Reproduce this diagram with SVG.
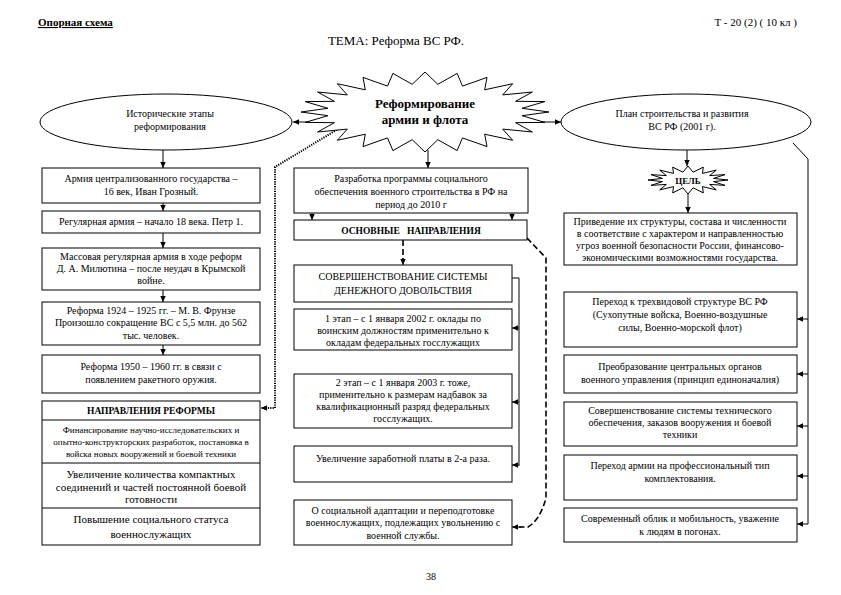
<svg xmlns="http://www.w3.org/2000/svg" width="841" height="595" viewBox="0 0 841 595">
<style>
  text { font-family: "Liberation Serif", "Times New Roman", serif; fill: #000; }
  .t { font-size: 10px; text-anchor: middle; }
  .ts { font-size: 9px; text-anchor: middle; }
  .tl { font-size: 11px; text-anchor: middle; }
  .b { font-weight: bold; }
  .box { fill: #fff; stroke: #000; stroke-width: 1; }
  .ln { fill: none; stroke: #000; stroke-width: 1; }
  .dash { fill: none; stroke: #000; stroke-width: 1.6; stroke-dasharray: 6 3; }
  .dot { fill: none; stroke: #000; stroke-width: 2; stroke-dasharray: 1.2 1.2; }
</style>
<defs>
  <marker id="ah" viewBox="0 0 10 10" refX="10" refY="5" markerWidth="7" markerHeight="6" orient="auto" markerUnits="userSpaceOnUse">
    <path d="M0,0.5 L10,5 L0,9.5 z" fill="#000"/>
  </marker>
</defs>
<rect width="841" height="595" fill="#fff"/>

<g id="header">
  <text x="38" y="26" style="font-size:11px" class="b" text-decoration="underline">Опорная схема</text>
  <text x="797" y="26" style="font-size:11px;text-anchor:end">Т - 20 (2) ( 10 кл )</text>
  <text x="396" y="45" style="font-size:13px;text-anchor:middle">ТЕМА: Реформа ВС РФ.</text>
  <text x="431" y="580" class="t">38</text>
</g>

<g id="connectors">
  <line class="ln" x1="313" y1="122" x2="293" y2="122" marker-end="url(#ah)"/>
  <line class="ln" x1="538" y1="122" x2="561" y2="122" marker-end="url(#ah)"/>
  <line class="ln" x1="428" y1="150" x2="428" y2="168" marker-end="url(#ah)"/>
  <line class="ln" x1="163" y1="150" x2="163" y2="168" marker-end="url(#ah)"/>
  <line class="ln" x1="163" y1="203" x2="163" y2="211" marker-end="url(#ah)"/>
  <line class="ln" x1="163" y1="233" x2="163" y2="248" marker-end="url(#ah)"/>
  <line class="ln" x1="163" y1="290" x2="163" y2="302" marker-end="url(#ah)"/>
  <line class="ln" x1="163" y1="345" x2="163" y2="355" marker-end="url(#ah)"/>
  <polyline class="dot" points="343,126 275,167 275,408 263,408"/>
  <line class="ln" x1="267" y1="408" x2="261" y2="408" marker-end="url(#ah)"/>
  <line class="ln" x1="312" y1="213" x2="312" y2="220" marker-end="url(#ah)"/>
  <line class="ln" x1="512" y1="213" x2="512" y2="220" marker-end="url(#ah)"/>
  <line class="dash" x1="403" y1="240" x2="403" y2="261"/>
  <line class="ln" x1="403" y1="258" x2="403" y2="265" marker-end="url(#ah)"/>
  <polyline class="ln" points="512,278 519,278 519,466"/>
  <line class="ln" x1="519" y1="328" x2="512" y2="328" marker-end="url(#ah)"/>
  <line class="ln" x1="519" y1="402" x2="512" y2="402" marker-end="url(#ah)"/>
  <line class="ln" x1="519" y1="465" x2="512" y2="465" marker-end="url(#ah)"/>
  <path class="dash" d="M527,238 L546,258 L546,498 Q540,520 528,527 L519,527"/>
  <line class="ln" x1="522" y1="527" x2="512" y2="527" marker-end="url(#ah)"/>
  <line class="ln" x1="687" y1="150" x2="687" y2="166" marker-end="url(#ah)"/>
  <line class="ln" x1="688" y1="194" x2="688" y2="213" marker-end="url(#ah)"/>
  <polyline class="ln" points="793,143 808,159 808,524"/>
  <line class="ln" x1="808" y1="319" x2="797" y2="319" marker-end="url(#ah)"/>
  <line class="ln" x1="808" y1="374" x2="797" y2="374" marker-end="url(#ah)"/>
  <line class="ln" x1="808" y1="426" x2="797" y2="426" marker-end="url(#ah)"/>
  <line class="ln" x1="808" y1="476" x2="797" y2="476" marker-end="url(#ah)"/>
  <line class="ln" x1="808" y1="524" x2="797" y2="524" marker-end="url(#ah)"/>
</g>

<g id="burst-main">
  <polygon class="box" points="549,112 522.1,115.7 544.8,122.4 515.6,122.7 532.4,132 502.7,129.1 512.7,140.3 484.7,134.2 487,146.6 462.5,137.9 457.1,150.6 437.8,139.7 425,152 412.2,139.7 392.9,150.6 387.5,137.9 363,146.6 365.3,134.2 337.3,140.3 347.3,129.1 317.6,132 334.4,122.7 305.2,122.4 327.9,115.7 301,112 327.9,108.3 305.2,101.6 334.4,101.3 317.6,92 347.3,94.9 337.3,83.7 365.3,89.8 363,77.4 387.5,86.1 392.9,73.4 412.2,84.3 425,72 437.8,84.3 457.1,73.4 462.5,86.1 487,77.4 484.7,89.8 512.7,83.7 502.7,94.9 532.4,92 515.6,101.3 544.8,101.6 522.1,108.3"/>
  <text x="425" y="108" class="b" style="font-size:13px;text-anchor:middle">Реформирование</text>
  <text x="425" y="124" class="b" style="font-size:13px;text-anchor:middle">армии и флота</text>
</g>

<g id="ellipse-history">
  <ellipse class="box" cx="166" cy="122" rx="126" ry="28"/>
  <text x="170" y="117" class="t">Исторические этапы</text>
  <text x="170" y="130" class="t">реформирования</text>
</g>

<g id="ellipse-plan">
  <ellipse class="box" cx="686" cy="122" rx="125" ry="28"/>
  <text x="682" y="117" class="t">План строительства и развития</text>
  <text x="682" y="130" class="t">ВС РФ (2001 г).</text>
</g>

<g id="burst-goal">
  <polygon class="box" points="728,180 713.5,181.6 725,185.4 709.6,184.4 716.3,189.9 702.5,186.6 703.3,192.9 693.1,187.8 688,194 682.9,187.8 672.7,192.9 673.5,186.6 659.7,189.9 666.4,184.4 651,185.4 662.5,181.6 648,180 662.5,178.4 651,174.6 666.4,175.6 659.7,170.1 673.5,173.4 672.7,167.1 682.9,172.2 688,166 693.1,172.2 703.3,167.1 702.5,173.4 716.3,170.1 709.6,175.6 725,174.6 713.5,178.4"/>
  <text x="688" y="183.5" class="b" style="font-size:9px;text-anchor:middle">ЦЕЛЬ</text>
</g>

<g id="hist-1">
  <rect class="box" x="42" y="168" width="218" height="35"/>
  <text x="151" y="182" class="t">Армия централизованного государства –</text>
  <text x="151" y="195" class="t">16 век, Иван Грозный.</text>
</g>
<g id="hist-2">
  <rect class="box" x="42" y="211" width="218" height="22"/>
  <text x="151" y="225" class="t">Регулярная армия – начало 18 века. Петр 1.</text>
</g>
<g id="hist-3">
  <rect class="box" x="42" y="248" width="218" height="42"/>
  <text x="151" y="260" class="t">Массовая регулярная армия в ходе реформ</text>
  <text x="151" y="272" class="t">Д. А. Милютина – после  неудач в Крымской</text>
  <text x="151" y="284" class="t">войне.</text>
</g>
<g id="hist-4">
  <rect class="box" x="42" y="302" width="218" height="43"/>
  <text x="151" y="314" class="t">Реформа 1924 – 1925 гг. – М. В. Фрунзе</text>
  <text x="151" y="326" class="t">Произошло сокращение ВС с 5,5 млн. до 562</text>
  <text x="151" y="339" class="t">тыс. человек.</text>
</g>
<g id="hist-5">
  <rect class="box" x="42" y="355" width="218" height="38"/>
  <text x="151" y="370" class="t">Реформа 1950 – 1960 гг. в связи с</text>
  <text x="151" y="383" class="t">появлением ракетного оружия.</text>
</g>

<g id="reform-directions">
  <rect class="box" x="42" y="401" width="218" height="144"/>
  <line class="ln" x1="42" y1="420" x2="260" y2="420"/>
  <line class="ln" x1="42" y1="463" x2="260" y2="463"/>
  <line class="ln" x1="42" y1="508" x2="260" y2="508"/>
  <text x="151" y="414" class="b" style="font-size:9.5px;text-anchor:middle">НАПРАВЛЕНИЯ РЕФОРМЫ</text>
  <text x="151" y="433" class="ts">Финансирование научно-исследовательских и</text>
  <text x="151" y="445" class="ts">опытно-конструкторских разработок, постановка в</text>
  <text x="151" y="457" class="ts">войска новых вооружений и боевой техники</text>
  <text x="151" y="478" class="tl">Увеличение количества компактных</text>
  <text x="151" y="491" class="tl">соединений и частей постоянной боевой</text>
  <text x="151" y="503" class="tl">готовности</text>
  <text x="151" y="523" class="tl">Повышение социального статуса</text>
  <text x="151" y="538" class="tl">военнослужащих</text>
</g>

<g id="program">
  <rect class="box" x="294" y="168" width="234" height="45"/>
  <text x="411" y="182" class="t">Разработка программы социального</text>
  <text x="411" y="195" class="t">обеспечения военного строительства в РФ на</text>
  <text x="411" y="208" class="t">период до 2010 г</text>
</g>
<g id="main-directions">
  <rect class="box" x="294" y="220" width="233" height="20"/>
  <text x="411" y="234" class="b" style="font-size:9.5px;text-anchor:middle;white-space:pre">ОСНОВНЫЕ   НАПРАВЛЕНИЯ</text>
</g>
<g id="pay-system">
  <rect class="box" x="294" y="265" width="218" height="37"/>
  <text x="403" y="280" class="t">СОВЕРШЕНСТВОВАНИЕ СИСТЕМЫ</text>
  <text x="403" y="294" class="t">ДЕНЕЖНОГО ДОВОЛЬСТВИЯ</text>
</g>
<g id="stage-1">
  <rect class="box" x="294" y="309" width="218" height="41"/>
  <text x="403" y="322" class="t">1 этап – с 1 января 2002 г. оклады по</text>
  <text x="403" y="334" class="t">воинским должностям применительно к</text>
  <text x="403" y="346" class="t">окладам федеральных госслужащих</text>
</g>
<g id="stage-2">
  <rect class="box" x="294" y="374" width="218" height="54"/>
  <text x="403" y="386" class="t">2 этап – с 1 января 2003 г. тоже,</text>
  <text x="403" y="398" class="t">применительно к размерам надбавок за</text>
  <text x="403" y="410" class="t">квалификационный разряд федеральных</text>
  <text x="403" y="422" class="t">госслужащих.</text>
</g>
<g id="salary">
  <rect class="box" x="294" y="446" width="218" height="36"/>
  <text x="403" y="462" class="t">Увеличение заработной платы в 2-а раза.</text>
</g>
<g id="adaptation">
  <rect class="box" x="294" y="500" width="218" height="45"/>
  <text x="403" y="514" class="t">О социальной адаптации и переподготовке</text>
  <text x="403" y="526" class="t">военнослужащих, подлежащих увольнению с</text>
  <text x="403" y="539" class="t">военной службы.</text>
</g>

<g id="goal-text">
  <rect class="box" x="564" y="213" width="233" height="52"/>
  <text x="680" y="225" class="t">Приведение их структуры, состава и численности</text>
  <text x="680" y="237" class="t">в соответствие с характером и направленностью</text>
  <text x="680" y="249" class="t">угроз военной безопасности России, финансово-</text>
  <text x="680" y="261" class="t">экономическими возможностями государства.</text>
</g>
<g id="plan-1">
  <rect class="box" x="564" y="292" width="233" height="55"/>
  <text x="680" y="305" class="t">Переход к трехвидовой структуре ВС РФ</text>
  <text x="680" y="318" class="t">(Сухопутные войска, Военно-воздушные</text>
  <text x="680" y="331" class="t">силы, Военно-морской флот)</text>
</g>
<g id="plan-2">
  <rect class="box" x="564" y="355" width="233" height="38"/>
  <text x="680" y="370" class="t">Преобразование центральных органов</text>
  <text x="680" y="383" class="t">военного управления (принцип единоначалия)</text>
</g>
<g id="plan-3">
  <rect class="box" x="564" y="402" width="233" height="44"/>
  <text x="680" y="414" class="t">Совершенствование системы технического</text>
  <text x="680" y="426" class="t">обеспечения, заказов вооружения и боевой</text>
  <text x="680" y="438" class="t">техники</text>
</g>
<g id="plan-4">
  <rect class="box" x="564" y="455" width="233" height="45"/>
  <text x="680" y="469" class="t">Переход армии на профессиональный тип</text>
  <text x="680" y="482" class="t">комплектования.</text>
</g>
<g id="plan-5">
  <rect class="box" x="564" y="508" width="233" height="34"/>
  <text x="680" y="522" class="t">Современный облик и мобильность, уважение</text>
  <text x="680" y="535" class="t">к людям в погонах.</text>
</g>
</svg>
